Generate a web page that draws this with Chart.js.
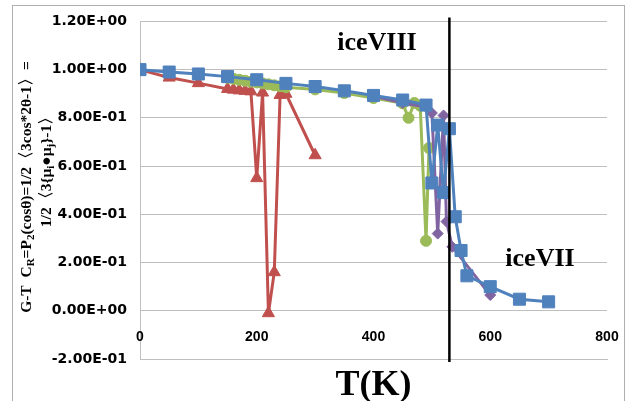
<!DOCTYPE html>
<html><head><meta charset="utf-8">
<script src="https://cdn.jsdelivr.net/npm/chart.js@4/dist/chart.umd.min.js"></script>
<style>html,body{margin:0;padding:0;background:#fff;}#wrap{width:628px;height:401px;}</style>
</head><body><div id="wrap"><canvas id="c" width="628" height="401"></canvas></div>
<script>
// ---- data ----
const blueT = [0,50,100,150,200,250,300,350,400,450,490,500,510,520,530,540,550,560,600,650,700];
const blueV = [1.0,0.99,0.982,0.971,0.958,0.943,0.93,0.912,0.893,0.874,0.853,0.53,0.77,0.49,0.755,0.39,0.25,0.145,0.10,0.048,0.037];

const redT = [0,50,100,150,160,170,180,190,200,210,220,230,240,250,300];
const redV = [1.0,0.967,0.944,0.92,0.917,0.914,0.912,0.91,0.55,0.905,-0.01,0.16,0.895,0.9,0.645];

const greenT = [150,160,170,180,190,200,210,220,230,240,250,300,350,400,450,460,470,480,490,495];
const greenV = [0.966,0.962,0.958,0.954,0.95,0.947,0.943,0.939,0.935,0.931,0.927,0.918,0.903,0.882,0.86,0.80,0.862,0.85,0.29,0.675];

const purpleT = [400,450,490,500,510,520,525,535,600];
const purpleV = [0.89,0.862,0.845,0.82,0.32,0.81,0.37,0.265,0.065];

const xTickLabels = ['0','200','400','600','800'];
const yTickLabels = ['-2.00E-01','0.00E+00','2.00E-01','4.00E-01','6.00E-01','8.00E-01','1.00E+00','1.20E+00'];
const phaseBoundaryT = 530;
const phaseLabels = ['iceVIII','iceVII'];
const xTitle = 'T(K)';
const yTitleLine1 = [['G-T  C',0],['R',1],['=P',0],['2',1],['(cos\u03B8)=1/2\u30083cos*2\u03B8-1\u3009=',0]];
const yTitleLine2 = [['1/2\u30083{\u03BC',0],['i',1],['\u25CF\u03BC',0],['j',1],['}-1\u3009',0]];

const pts = (T,V) => T.map((t,i)=>({x:t,y:V[i]}));
const BLUE='#4F81BD', RED='#C0504D', GREEN='#9BBB59', PURPLE='#8064A2';
const SERIF='"Liberation Serif", "Times New Roman", serif';

function drawRuns(ctx, runs, cx, cy, size, family){
  const ws=[]; let total=0;
  runs.forEach(([t,sub])=>{ctx.font='bold '+(sub?Math.round(size*0.68):size)+'px '+family;const w=ctx.measureText(t).width;ws.push(w);total+=w;});
  let x=cx-total/2;
  runs.forEach(([t,sub],i)=>{ctx.font='bold '+(sub?Math.round(size*0.68):size)+'px '+family;ctx.fillText(t,x,cy+(sub?size*0.28:0));x+=ws[i];});
}

const decor = {
  id:'decor',
  afterDatasetsDraw(chart){
    const {ctx, chartArea:a, scales:{x}} = chart;
    ctx.save();
    const px = x.getPixelForValue(phaseBoundaryT);
    ctx.strokeStyle='#000'; ctx.lineWidth=2.5;
    ctx.beginPath(); ctx.moveTo(px, a.top-4); ctx.lineTo(px, a.bottom+3); ctx.stroke();
    ctx.restore();
  },
  afterDraw(chart){
    const {ctx, chartArea:a, scales:{x}} = chart;
    ctx.save();
    ctx.strokeStyle='#B0B0B0'; ctx.lineWidth=1;
    ctx.strokeRect(12.5,5.5,612,420);
    ctx.fillStyle='#000';
    // x tick labels (placed above the axis line, as in the reference)
    ctx.textAlign='center'; ctx.textBaseline='middle';
    ctx.font='bold 14px "Liberation Sans", Arial, sans-serif';
    x.ticks.forEach((t)=>{ctx.fillText(xTickLabels[Math.round(t.value/200)], x.getPixelForValue(t.value), a.bottom-21.5);});
    ctx.textBaseline='alphabetic';
    ctx.font='bold 26px '+SERIF;
    ctx.fillText(phaseLabels[0], a.left+237, a.top+29);
    ctx.fillText(phaseLabels[1], a.left+400, a.top+245);
    ctx.font='bold 36px '+SERIF;
    ctx.fillText(xTitle, (a.left+a.right)/2, 395);
    ctx.textAlign='left'; ctx.textBaseline='middle';
    ctx.save(); ctx.translate(27,187); ctx.rotate(-Math.PI/2);
    drawRuns(ctx, yTitleLine1, 0, 0, 15.5, SERIF);
    ctx.restore();
    ctx.save(); ctx.translate(47,168); ctx.rotate(-Math.PI/2);
    drawRuns(ctx, yTitleLine2, 0, 0, 15.5, SERIF);
    ctx.restore();
    ctx.restore();
  }
};

const common = {showLine:true, borderWidth:3, pointBorderWidth:1, fill:false, tension:0};
new Chart(document.getElementById('c'), {
  type:'scatter',
  data:{datasets:[
    {...common, label:'blue', data:pts(blueT,blueV), borderColor:BLUE, backgroundColor:BLUE, pointStyle:'rect', pointRadius:8.5},
    {...common, label:'purple', data:pts(purpleT,purpleV), borderColor:PURPLE, backgroundColor:PURPLE, pointStyle:'rectRot', pointRadius:5.5},
    {...common, label:'green', data:pts(greenT,greenV), borderColor:GREEN, backgroundColor:GREEN, pointStyle:'circle', pointRadius:5.5},
    {...common, label:'red', data:pts(redT,redV), borderColor:RED, backgroundColor:RED, pointStyle:'triangle', pointRadius:7}
  ]},
  options:{
    responsive:false, animation:false, devicePixelRatio:1,
    layout:{padding:{top:21,right:21,left:0,bottom:0}},
    plugins:{legend:{display:false}, tooltip:{enabled:false}},
    scales:{
      x:{type:'linear', min:0, max:800,
        ticks:{stepSize:200, display:false},
        grid:{display:false, drawTicks:false},
        border:{display:true, color:'#BFBFBF', width:1},
        afterFit:(s)=>{s.height=42;}
      },
      y:{min:-0.2, max:1.2,
        ticks:{stepSize:0.2, padding:13, color:'#000', font:{family:'"DejaVu Sans", sans-serif', weight:'bold', size:14},
          callback:(v)=>yTickLabels[Math.round((v+0.2)/0.2)]},
        grid:{color:'#BFBFBF', drawTicks:false, lineWidth:1},
        border:{display:true, color:'#BFBFBF', width:1},
        afterFit:(s)=>{s.width=140;}
      }
    }
  },
  plugins:[decor]
});
</script></body></html>
